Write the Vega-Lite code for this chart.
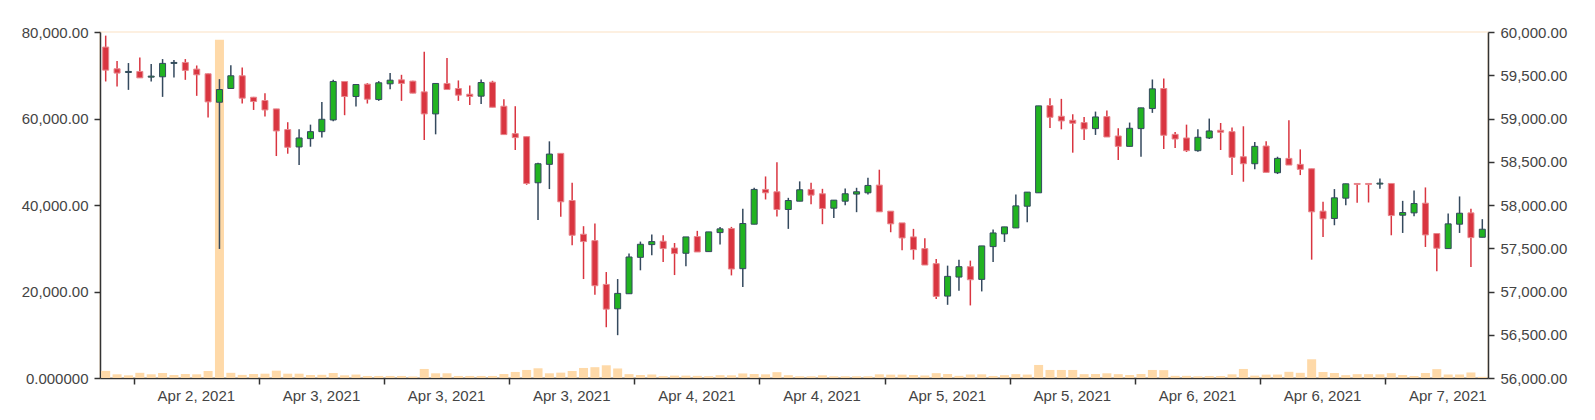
{
"$schema": "https://vega.github.io/schema/vega-lite/v6.json",
"width": 1388, "height": 346,
"autosize": {"type": "none"},
"padding": {"left": 100, "top": 32, "right": 107, "bottom": 42},
"background": "white",
"config": {
  "view": {"stroke": "#fdf0e1", "strokeWidth": 2},
  "axis": {"labelFont": "Liberation Sans", "labelFontSize": 15, "labelColor": "#444444", "domainColor": "#333333", "domainWidth": 1.5, "tickColor": "#333333", "tickWidth": 1.5, "tickSize": 6, "grid": false, "title": null, "labelPadding": 6}
},
"data": {"values": [
{"t":"2021-04-02T05:00","o":59826,"h":59958,"l":59428,"c":59559,"v":1650},
{"t":"2021-04-02T06:00","o":59575,"h":59664,"l":59370,"c":59525,"v":855},
{"t":"2021-04-02T07:00","o":59532,"h":59641,"l":59331,"c":59544,"v":620},
{"t":"2021-04-02T08:00","o":59544,"h":59706,"l":59467,"c":59470,"v":1200},
{"t":"2021-04-02T09:00","o":59478,"h":59629,"l":59428,"c":59490,"v":855},
{"t":"2021-04-02T10:00","o":59482,"h":59687,"l":59250,"c":59637,"v":1160},
{"t":"2021-04-02T11:00","o":59637,"h":59675,"l":59474,"c":59648,"v":700},
{"t":"2021-04-02T12:00","o":59648,"h":59687,"l":59447,"c":59556,"v":930},
{"t":"2021-04-02T13:00","o":59571,"h":59613,"l":59262,"c":59505,"v":855},
{"t":"2021-04-02T14:00","o":59517,"h":59521,"l":59011,"c":59192,"v":1625},
{"t":"2021-04-02T15:00","o":59188,"h":59455,"l":57492,"c":59335,"v":78220},
{"t":"2021-04-02T16:00","o":59347,"h":59617,"l":59347,"c":59494,"v":1200},
{"t":"2021-04-02T17:00","o":59494,"h":59590,"l":59173,"c":59235,"v":720},
{"t":"2021-04-02T18:00","o":59246,"h":59250,"l":59099,"c":59196,"v":930},
{"t":"2021-04-02T19:00","o":59208,"h":59293,"l":59022,"c":59099,"v":1000},
{"t":"2021-04-02T20:00","o":59111,"h":59111,"l":58566,"c":58856,"v":1700},
{"t":"2021-04-02T21:00","o":58872,"h":58957,"l":58593,"c":58667,"v":1000},
{"t":"2021-04-02T22:00","o":58671,"h":58875,"l":58462,"c":58775,"v":1000},
{"t":"2021-04-02T23:00","o":58767,"h":58929,"l":58674,"c":58848,"v":700},
{"t":"2021-04-03T00:00","o":58848,"h":59192,"l":58779,"c":58991,"v":740},
{"t":"2021-04-03T01:00","o":58983,"h":59447,"l":58968,"c":59428,"v":1160},
{"t":"2021-04-03T02:00","o":59428,"h":59428,"l":59038,"c":59254,"v":620},
{"t":"2021-04-03T03:00","o":59254,"h":59393,"l":59138,"c":59393,"v":800},
{"t":"2021-04-03T04:00","o":59397,"h":59409,"l":59173,"c":59223,"v":470},
{"t":"2021-04-03T05:00","o":59219,"h":59432,"l":59204,"c":59413,"v":470},
{"t":"2021-04-03T06:00","o":59401,"h":59525,"l":59339,"c":59443,"v":470},
{"t":"2021-04-03T07:00","o":59447,"h":59505,"l":59204,"c":59405,"v":470},
{"t":"2021-04-03T08:00","o":59432,"h":59436,"l":59293,"c":59293,"v":350},
{"t":"2021-04-03T09:00","o":59308,"h":59772,"l":58752,"c":59053,"v":2090},
{"t":"2021-04-03T10:00","o":59053,"h":59405,"l":58817,"c":59405,"v":1087},
{"t":"2021-04-03T11:00","o":59405,"h":59699,"l":59335,"c":59335,"v":1087},
{"t":"2021-04-03T12:00","o":59347,"h":59440,"l":59204,"c":59270,"v":470},
{"t":"2021-04-03T13:00","o":59281,"h":59382,"l":59157,"c":59254,"v":470},
{"t":"2021-04-03T14:00","o":59258,"h":59451,"l":59169,"c":59416,"v":470},
{"t":"2021-04-03T15:00","o":59420,"h":59436,"l":59130,"c":59130,"v":470},
{"t":"2021-04-03T16:00","o":59142,"h":59223,"l":58814,"c":58814,"v":930},
{"t":"2021-04-03T17:00","o":58825,"h":59142,"l":58636,"c":58779,"v":1396},
{"t":"2021-04-03T18:00","o":58790,"h":58790,"l":58234,"c":58249,"v":1860},
{"t":"2021-04-03T19:00","o":58257,"h":58489,"l":57828,"c":58477,"v":2246},
{"t":"2021-04-03T20:00","o":58470,"h":58736,"l":58184,"c":58589,"v":1087},
{"t":"2021-04-03T21:00","o":58597,"h":58597,"l":57863,"c":58037,"v":1241},
{"t":"2021-04-03T22:00","o":58052,"h":58257,"l":57534,"c":57650,"v":1625},
{"t":"2021-04-03T23:00","o":57662,"h":57755,"l":57144,"c":57577,"v":2320},
{"t":"2021-04-04T00:00","o":57588,"h":57786,"l":56962,"c":57067,"v":2500},
{"t":"2021-04-04T01:00","o":57082,"h":57225,"l":56587,"c":56796,"v":2940},
{"t":"2021-04-04T02:00","o":56800,"h":57144,"l":56495,"c":56978,"v":2200},
{"t":"2021-04-04T03:00","o":56974,"h":57438,"l":56974,"c":57399,"v":890},
{"t":"2021-04-04T04:00","o":57395,"h":57577,"l":57245,"c":57546,"v":700},
{"t":"2021-04-04T05:00","o":57542,"h":57658,"l":57418,"c":57577,"v":810},
{"t":"2021-04-04T06:00","o":57581,"h":57650,"l":57341,"c":57496,"v":430},
{"t":"2021-04-04T07:00","o":57503,"h":57561,"l":57190,"c":57438,"v":550},
{"t":"2021-04-04T08:00","o":57442,"h":57631,"l":57291,"c":57631,"v":550},
{"t":"2021-04-04T09:00","o":57635,"h":57701,"l":57457,"c":57457,"v":500},
{"t":"2021-04-04T10:00","o":57461,"h":57689,"l":57461,"c":57689,"v":430},
{"t":"2021-04-04T11:00","o":57681,"h":57747,"l":57542,"c":57724,"v":650},
{"t":"2021-04-04T12:00","o":57728,"h":57747,"l":57186,"c":57260,"v":620},
{"t":"2021-04-04T13:00","o":57264,"h":57956,"l":57051,"c":57786,"v":1050},
{"t":"2021-04-04T14:00","o":57778,"h":58199,"l":57778,"c":58180,"v":930},
{"t":"2021-04-04T15:00","o":58180,"h":58330,"l":58064,"c":58141,"v":850},
{"t":"2021-04-04T16:00","o":58153,"h":58493,"l":57867,"c":57948,"v":1350},
{"t":"2021-04-04T17:00","o":57948,"h":58083,"l":57724,"c":58052,"v":650},
{"t":"2021-04-04T18:00","o":58044,"h":58273,"l":58044,"c":58176,"v":400},
{"t":"2021-04-04T19:00","o":58180,"h":58257,"l":58010,"c":58114,"v":400},
{"t":"2021-04-04T20:00","o":58130,"h":58187,"l":57778,"c":57959,"v":620},
{"t":"2021-04-04T21:00","o":57963,"h":58056,"l":57851,"c":58056,"v":400},
{"t":"2021-04-04T22:00","o":58044,"h":58191,"l":57998,"c":58130,"v":400},
{"t":"2021-04-04T23:00","o":58126,"h":58199,"l":57917,"c":58153,"v":400},
{"t":"2021-04-05T00:00","o":58141,"h":58315,"l":58122,"c":58226,"v":400},
{"t":"2021-04-05T01:00","o":58230,"h":58408,"l":57921,"c":57921,"v":850},
{"t":"2021-04-05T02:00","o":57929,"h":57929,"l":57685,"c":57782,"v":780},
{"t":"2021-04-05T03:00","o":57793,"h":57793,"l":57476,"c":57619,"v":780},
{"t":"2021-04-05T04:00","o":57631,"h":57724,"l":57368,"c":57484,"v":700},
{"t":"2021-04-05T05:00","o":57496,"h":57616,"l":57306,"c":57306,"v":580},
{"t":"2021-04-05T06:00","o":57322,"h":57376,"l":56912,"c":56943,"v":1120},
{"t":"2021-04-05T07:00","o":56947,"h":57299,"l":56846,"c":57175,"v":930},
{"t":"2021-04-05T08:00","o":57167,"h":57368,"l":57009,"c":57287,"v":500},
{"t":"2021-04-05T09:00","o":57287,"h":57357,"l":56839,"c":57136,"v":810},
{"t":"2021-04-05T10:00","o":57140,"h":57527,"l":57001,"c":57527,"v":850},
{"t":"2021-04-05T11:00","o":57519,"h":57716,"l":57341,"c":57677,"v":470},
{"t":"2021-04-05T12:00","o":57666,"h":57747,"l":57573,"c":57747,"v":660},
{"t":"2021-04-05T13:00","o":57735,"h":58122,"l":57735,"c":57990,"v":900},
{"t":"2021-04-05T14:00","o":57986,"h":58149,"l":57801,"c":58149,"v":800},
{"t":"2021-04-05T15:00","o":58141,"h":59146,"l":58141,"c":59146,"v":3016},
{"t":"2021-04-05T16:00","o":59150,"h":59235,"l":58891,"c":59014,"v":1858},
{"t":"2021-04-05T17:00","o":59026,"h":59227,"l":58875,"c":58972,"v":1858},
{"t":"2021-04-05T18:00","o":58980,"h":59049,"l":58605,"c":58945,"v":1858},
{"t":"2021-04-05T19:00","o":58953,"h":59018,"l":58752,"c":58879,"v":890},
{"t":"2021-04-05T20:00","o":58883,"h":59080,"l":58810,"c":59018,"v":930},
{"t":"2021-04-05T21:00","o":59022,"h":59092,"l":58786,"c":58786,"v":1085},
{"t":"2021-04-05T22:00","o":58798,"h":58887,"l":58520,"c":58678,"v":890},
{"t":"2021-04-05T23:00","o":58678,"h":58953,"l":58678,"c":58887,"v":700},
{"t":"2021-04-06T00:00","o":58883,"h":59123,"l":58558,"c":59123,"v":930},
{"t":"2021-04-06T01:00","o":59115,"h":59451,"l":59065,"c":59343,"v":1858},
{"t":"2021-04-06T02:00","o":59347,"h":59463,"l":58647,"c":58806,"v":1820},
{"t":"2021-04-06T03:00","o":58817,"h":58844,"l":58659,"c":58763,"v":500},
{"t":"2021-04-06T04:00","o":58775,"h":58929,"l":58613,"c":58628,"v":500},
{"t":"2021-04-06T05:00","o":58628,"h":58875,"l":58617,"c":58783,"v":400},
{"t":"2021-04-06T06:00","o":58775,"h":58999,"l":58763,"c":58856,"v":460},
{"t":"2021-04-06T07:00","o":58864,"h":58948,"l":58636,"c":58841,"v":460},
{"t":"2021-04-06T08:00","o":58848,"h":58895,"l":58346,"c":58551,"v":850},
{"t":"2021-04-06T09:00","o":58558,"h":58910,"l":58269,"c":58477,"v":2090},
{"t":"2021-04-06T10:00","o":58477,"h":58728,"l":58412,"c":58678,"v":546},
{"t":"2021-04-06T11:00","o":58682,"h":58736,"l":58377,"c":58377,"v":780},
{"t":"2021-04-06T12:00","o":58373,"h":58558,"l":58358,"c":58539,"v":800},
{"t":"2021-04-06T13:00","o":58539,"h":58980,"l":58462,"c":58462,"v":1430},
{"t":"2021-04-06T14:00","o":58470,"h":58643,"l":58346,"c":58412,"v":1200},
{"t":"2021-04-06T15:00","o":58419,"h":58419,"l":57368,"c":57921,"v":4330},
{"t":"2021-04-06T16:00","o":57929,"h":58037,"l":57631,"c":57840,"v":1394},
{"t":"2021-04-06T17:00","o":57844,"h":58184,"l":57766,"c":58083,"v":1162},
{"t":"2021-04-06T18:00","o":58079,"h":58245,"l":57998,"c":58245,"v":660},
{"t":"2021-04-06T19:00","o":58249,"h":58249,"l":58025,"c":58238,"v":890},
{"t":"2021-04-06T20:00","o":58249,"h":58249,"l":58029,"c":58238,"v":890},
{"t":"2021-04-06T21:00","o":58242,"h":58307,"l":58187,"c":58253,"v":850},
{"t":"2021-04-06T22:00","o":58249,"h":58249,"l":57650,"c":57878,"v":1120},
{"t":"2021-04-06T23:00","o":57882,"h":58048,"l":57677,"c":57913,"v":700},
{"t":"2021-04-07T00:00","o":57909,"h":58168,"l":57871,"c":58017,"v":466},
{"t":"2021-04-07T01:00","o":58021,"h":58203,"l":57515,"c":57654,"v":1162},
{"t":"2021-04-07T02:00","o":57670,"h":57670,"l":57233,"c":57500,"v":2050},
{"t":"2021-04-07T03:00","o":57496,"h":57901,"l":57496,"c":57782,"v":810},
{"t":"2021-04-07T04:00","o":57778,"h":58099,"l":57677,"c":57905,"v":810},
{"t":"2021-04-07T05:00","o":57909,"h":57956,"l":57283,"c":57623,"v":1280},
{"t":"2021-04-07T06:00","o":57627,"h":57836,"l":57627,"c":57720,"v":270}
]},
"encoding": {
  "x": {"field": "t", "type": "ordinal", "scale": {"type": "band", "paddingInner": 0, "paddingOuter": 0},
        "axis": {"values": ["2021-04-02T08:00","2021-04-02T19:00","2021-04-03T06:00","2021-04-03T17:00","2021-04-04T04:00","2021-04-04T15:00","2021-04-05T02:00","2021-04-05T13:00","2021-04-06T00:00","2021-04-06T11:00","2021-04-06T22:00"],
                 "bandPosition": 0, "labelOffset": 56.5, "labelAngle": 0, "labelPadding": 4,
                 "labelExpr": "timeFormat(time(datum.value) + 18000000, '%b %-d, %Y')"}}
},
"layer": [
  {"mark": {"type": "bar", "size": 9, "color": "#fed9a8"},
   "encoding": {"y": {"field": "v", "type": "quantitative", "scale": {"domain": [0, 80000], "nice": false},
                      "axis": {"orient": "left", "values": [0, 20000, 40000, 60000, 80000],
                               "labelExpr": "datum.value === 0 ? '0.000000' : format(datum.value, ',.2f')"}}}},
  {"layer": [
    {"mark": {"type": "rule", "strokeWidth": 1.5},
     "encoding": {
       "y": {"field": "l", "type": "quantitative", "scale": {"domain": [56000, 60000], "nice": false, "zero": false},
             "axis": {"orient": "right", "values": [56000,56500,57000,57500,58000,58500,59000,59500,60000], "format": ",.2f"}},
       "y2": {"field": "h"},
       "color": {"condition": {"test": "datum.c >= datum.o", "value": "#34495e"}, "value": "#d93540"}}},
    {"mark": {"type": "bar", "size": 6, "strokeWidth": 1},
     "encoding": {
       "y": {"field": "o", "type": "quantitative"},
       "y2": {"field": "c"},
       "fill": {"condition": {"test": "datum.c >= datum.o", "value": "#21b321"}, "value": "#d93540"},
       "stroke": {"condition": {"test": "datum.c >= datum.o", "value": "#34495e"}, "value": "#e8868c"}}}
  ]}
],
"resolve": {"scale": {"y": "independent"}}
}
